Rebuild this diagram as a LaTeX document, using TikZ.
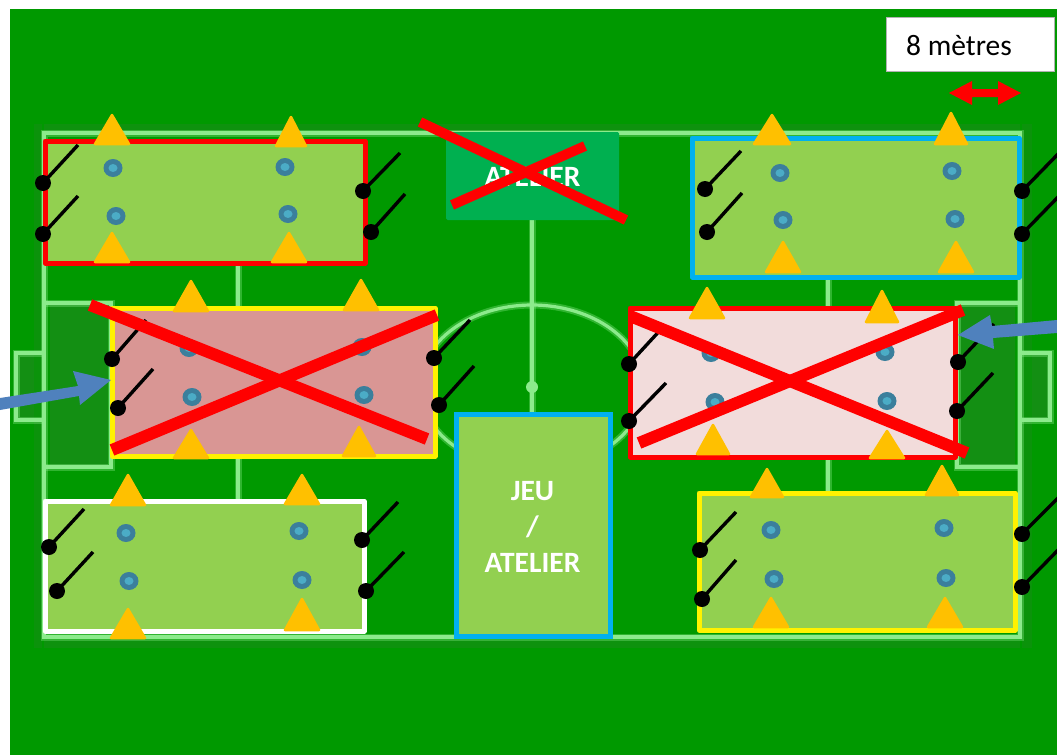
\documentclass[tikz,border=0pt]{standalone}
\usepackage{fontspec}
\setmainfont{Carlito}
\definecolor{pitch}{HTML}{009900}
\definecolor{pitchdark}{HTML}{1B8A1B}
\definecolor{fieldline}{HTML}{8CEB8C}
\definecolor{zonefill}{HTML}{92D050}
\definecolor{conegold}{HTML}{FFC000}
\definecolor{conering}{HTML}{3B7F9C}
\definecolor{conecore}{HTML}{4BACC6}
\definecolor{skyblue}{HTML}{00B0F0}
\definecolor{steel}{HTML}{4F81BD}
\definecolor{rosefill}{HTML}{D99694}
\definecolor{palefill}{HTML}{F2DCDB}
\definecolor{ateliergreen}{HTML}{00B050}
\tikzset{
  line/.style={draw=fieldline,line width=3.2pt,preaction={draw=fieldline,opacity=.35,line width=7pt}},
  zone/.style={line width=5pt,line join=round},
  crossbar/.style={draw=red,line width=12pt},
  stick/.style={draw=black,line width=3.4pt},
  chip/.style={fill=conegold,draw=conegold,line width=2.5pt,line join=round},
  lbl/.style={text=white,font=\bfseries\fontsize{29.5}{30}\selectfont,inner sep=0pt},
}
\newcommand{\fplayer}[4]{\draw[stick] (#1,#2) -- (#3,#4); \fill[black] (#1,#2) circle (8);}
\newcommand{\fcone}[2]{\fill[conering] (#1,#2) ellipse (9.5 and 9); \fill[conecore] (#1,#2) ellipse (4.5 and 4);}
\newcommand{\ftri}[4]{\path[chip] (#1,#2) -- ({#1-#4},#3) -- ({#1+#4},#3) -- cycle;}
\begin{document}
\begin{tikzpicture}[x=1pt,y=-1pt]
\useasboundingbox (0,0) rectangle (1057,755);
\fill[white] (0,0) rectangle (1057,755);
\fill[pitch] (10,9) rectangle (1057,755);
% darker mown strips
\fill[pitchdark!70!pitch] (16,353) rectangle (44,420);
\fill[pitchdark!70!pitch] (1020,353) rectangle (1050,420);
\fill[pitchdark!70!pitch] (50,305) rectangle (108,465);
\fill[pitchdark!70!pitch] (960,305) rectangle (1015,465);
\fill[pitchdark!50!pitch] (44,124) rectangle (1020,131);
\fill[pitchdark!50!pitch] (44,640) rectangle (1020,648);
\fill[pitchdark!40!pitch] (34,124) rectangle (42,648);
\fill[pitchdark!40!pitch] (1022,124) rectangle (1032,648);
% pitch markings
\draw[line] (44,133) rectangle (1020,637);
\draw[line] (532,133) -- (532,637);
\draw[line] (532,387) ellipse (112 and 82);
\fill[fieldline] (532,387) circle (6);
\draw[line] (44,303) -- (111,303) -- (111,467) -- (44,467);
\draw[line] (1020,303) -- (957,303) -- (957,467) -- (1020,467);
\draw[line] (44,353) -- (16,353) -- (16,420) -- (44,420);
\draw[line] (1020,353) -- (1050,353) -- (1050,420) -- (1020,420);
\draw[line] (238,262) -- (238,502);
\draw[line] (828,275) -- (828,495);
% legend
\node[draw=black!30,line width=1.5pt,fill=white,minimum width=168pt,minimum height=54pt,inner sep=0pt] (legend) at (970.5,44.5) {};
\node[anchor=west,inner sep=0pt,font=\fontsize{29.5}{30}\selectfont] (legendtext) at (906,46) {8 mètres};
\fill[red] (949,93) -- (972,81) -- (972,89) -- (998,89) -- (998,81) -- (1021,93) -- (998,105) -- (998,97) -- (972,97) -- (972,105) -- cycle;
% top left zone
\filldraw[zone,draw=red,fill=zonefill] (45,141) rectangle (365,263);
\ftri{112}{115}{144}{17}\ftri{291}{117}{146}{15}\ftri{112}{233}{262}{17}\ftri{289}{233}{262}{17}
\fcone{113}{168}\fcone{285}{167}\fcone{116}{216}\fcone{288}{214}
\fplayer{43}{183}{78}{145}\fplayer{43}{234}{78}{196}\fplayer{363}{191}{400}{153}\fplayer{371}{232}{405}{194}
% middle left zone
\filldraw[zone,draw=yellow,fill=rosefill] (112,308) rectangle (435,456);
\ftri{191}{281}{311}{17}\ftri{361}{280}{310}{17}\ftri{191}{430}{458}{17}\ftri{359}{427}{456}{16}
\fcone{189}{348}\fcone{362}{347}\fcone{192}{397}\fcone{364}{395}
\fplayer{112}{359}{146}{320}\fplayer{118}{408}{153}{369}\fplayer{434}{358}{470}{320}\fplayer{439}{405}{474}{366}
\draw[crossbar] (90,305) -- (427,439);
\draw[crossbar] (112,450) -- (437,315);
\fill[steel] (0,398) -- (78,386) -- (73,371) -- (111,380) -- (80,405) -- (79,396) -- (0,410) -- cycle;
% bottom left zone
\filldraw[zone,draw=white,fill=zonefill] (45,501) rectangle (364,631);
\ftri{128}{475}{505}{17}\ftri{302}{475}{504}{17}\ftri{128}{609}{638}{17}\ftri{302}{599}{630}{17}
\fcone{126}{533}\fcone{299}{531}\fcone{129}{581}\fcone{302}{580}
\fplayer{49}{547}{84}{509}\fplayer{57}{591}{93}{552}\fplayer{362}{540}{398}{502}\fplayer{366}{591}{404}{552}
% centre top
\node[fill=ateliergreen,rounded corners=1.5pt,minimum width=173pt,minimum height=88pt,inner sep=0pt] (atelierbox) at (532.5,176) {};
\node[lbl] (ateliertext) at (532.5,177) {ATELIER};
\draw[red,line width=10pt] (420,122) -- (626,220);
\draw[red,line width=10pt] (452,205) -- (585,146);
% centre bottom
\node[draw=skyblue,line width=5pt,fill=zonefill,minimum width=154pt,minimum height=222pt,inner sep=0pt] (jeubox) at (533,525.5) {};
\node[lbl] (jeu) at (532.5,491) {JEU};
\node[lbl] (slash) at (532.5,527) {/};
\node[lbl] (atelier2) at (532.5,563) {ATELIER};
% top right zone
\filldraw[zone,draw=skyblue,fill=zonefill] (692,138) rectangle (1019,277);
\ftri{772}{115}{144}{18}\ftri{951}{113}{144}{16}\ftri{783}{242}{272}{17}\ftri{956}{242}{272}{17}
\fcone{780}{173}\fcone{952}{171}\fcone{783}{220}\fcone{955}{219}
\fplayer{705}{189}{741}{151}\fplayer{707}{232}{742}{193}\fplayer{1022}{191}{1059}{153}\fplayer{1022}{234}{1059}{196}
% middle right zone
\filldraw[zone,draw=red,fill=palefill] (630,308) rectangle (955,457);
\ftri{707}{288}{318}{17}\ftri{882}{291}{322}{16}\ftri{713}{425}{454}{16}\ftri{887}{431}{458}{17}
\fcone{711}{353}\fcone{885}{352}\fcone{715}{402}\fcone{887}{401}
\fplayer{629}{364}{664}{326}\fplayer{629}{421}{666}{383}\fplayer{958}{362}{994}{324}\fplayer{957}{411}{993}{373}
\draw[crossbar] (630,316) -- (967,453);
\draw[crossbar] (639,443) -- (963,310);
\fill[steel] (1057,320) -- (992,326) -- (990,315) -- (958,335) -- (994,349) -- (993,338) -- (1057,333) -- cycle;
% bottom right zone
\filldraw[zone,draw=yellow,fill=zonefill] (699,493) rectangle (1015,630);
\ftri{767}{469}{497}{16}\ftri{942}{466}{495}{16}\ftri{771}{598}{627}{17}\ftri{945}{598}{627}{17}
\fcone{771}{530}\fcone{944}{528}\fcone{774}{579}\fcone{946}{578}
\fplayer{700}{550}{736}{512}\fplayer{702}{599}{736}{560}\fplayer{1022}{534}{1059}{497}\fplayer{1022}{587}{1059}{549}
\end{tikzpicture}
\end{document}
